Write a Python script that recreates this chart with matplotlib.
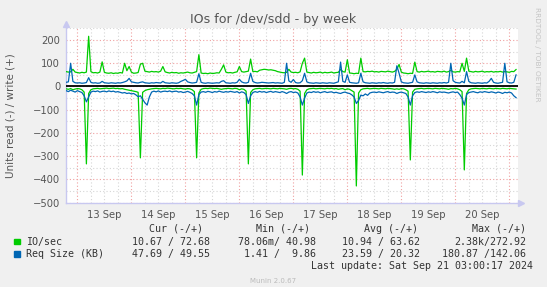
import numpy as np
import pandas as pd
import matplotlib
matplotlib.use('Agg')
import matplotlib.pyplot as plt
import matplotlib.dates as mdates
from matplotlib.ticker import MultipleLocator, FuncFormatter, NullFormatter
from matplotlib.patches import Rectangle

# hourly samples, Thu Sep 12 19:00 -> Sat Sep 21 03:00
start = '2024-09-12 19:00'
x_min = '2024-09-12 18:48'
x_max = '2024-09-21 04:00'

# IO/sec, write (+)
write_io = [
    64, 62, 63, 74, 62,
    60, 58, 61, 59, 62, 216, 64, 59, 60, 58, 62, 106, 61, 58, 57, 59, 56, 58, 57, 60, 58, 100, 68, 86,
    62, 57, 58, 60, 96, 100, 66, 64, 62, 65, 63, 64, 62, 66, 86, 63, 60, 58, 61, 59, 60, 57, 59, 58,
    60, 62, 59, 58, 61, 64, 137, 58, 56, 57, 55, 58, 56, 57, 59, 58, 74, 93, 62, 59, 60, 58, 61, 63,
    86, 64, 62, 64, 66, 118, 64, 65, 63, 70, 72, 74, 73, 71, 72, 70, 68, 64, 62, 60, 59, 61, 74, 62,
    60, 61, 59, 63, 100, 122, 62, 60, 58, 61, 59, 60, 62, 58, 61, 59, 60, 62, 58, 60, 61, 74, 64, 62,
    115, 58, 57, 55, 57, 56, 122, 64, 63, 65, 64, 66, 63, 64, 62, 65, 64, 63, 66, 64, 62, 65, 74, 95,
    62, 58, 57, 55, 57, 56, 105, 64, 62, 65, 63, 64, 66, 63, 64, 62, 65, 64, 63, 66, 62, 64, 70, 63,
    62, 64, 63, 100, 65, 122, 66, 64, 62, 65, 63, 64, 66, 62, 64, 63, 65, 62, 64, 63, 65, 62, 64, 63,
    61, 65, 64, 73,
]

# Req Size (KB), write (+)
write_size = [
    18, 20, 100, 22, 16,
    15, 16, 14, 15, 17, 38, 18, 15, 16, 14, 15, 22, 16, 15, 14, 16, 15, 14, 16, 15, 17, 20, 24, 35,
    20, 18, 16, 15, 18, 20, 16, 15, 14, 16, 15, 17, 16, 15, 22, 16, 15, 14, 16, 15, 14, 16, 22, 26,
    31, 20, 17, 15, 16, 18, 55, 18, 15, 14, 16, 15, 14, 15, 16, 15, 22, 25, 16, 15, 14, 16, 15, 18,
    31, 20, 16, 15, 18, 57, 22, 17, 15, 16, 18, 17, 16, 15, 16, 17, 15, 16, 15, 14, 18, 100, 24, 18,
    30, 17, 15, 16, 25, 57, 20, 16, 15, 14, 16, 15, 14, 16, 15, 14, 16, 15, 14, 17, 20, 105, 22, 18,
    50, 18, 16, 15, 14, 16, 57, 20, 16, 15, 14, 16, 15, 14, 16, 15, 17, 15, 14, 16, 15, 18, 89, 57,
    20, 16, 15, 14, 16, 18, 50, 20, 16, 15, 14, 16, 15, 14, 16, 15, 14, 16, 15, 17, 15, 18, 100, 25,
    18, 16, 15, 22, 16, 64, 22, 16, 15, 14, 16, 15, 14, 16, 15, 22, 35, 18, 15, 14, 16, 18, 100, 20,
    16, 15, 18, 50,
]

# IO/sec, read (-)
read_io = [
    10, 12, 9, 14, 11,
    9, 10, 14, 24, 333, 30, 14, 10, 9, 8, 10, 9, 8, 7, 9, 8, 7, 9, 8, 10, 9, 12, 14, 16,
    18, 20, 22, 25, 307, 25, 18, 14, 12, 10, 9, 8, 9, 10, 8, 9, 7, 8, 9, 10, 8, 9, 8, 10,
    11, 9, 10, 14, 22, 307, 28, 12, 9, 8, 9, 7, 8, 9, 8, 10, 12, 10, 9, 8, 9, 10, 8, 9,
    14, 10, 12, 20, 333, 26, 14, 10, 9, 8, 10, 9, 8, 9, 10, 8, 9, 10, 8, 9, 10, 12, 9, 8,
    10, 9, 12, 20, 381, 30, 14, 10, 9, 8, 10, 9, 8, 9, 10, 8, 9, 8, 10, 9, 12, 10, 9, 14,
    10, 12, 18, 24, 428, 28, 14, 10, 9, 8, 10, 9, 8, 9, 10, 8, 9, 10, 8, 9, 10, 12, 10, 12,
    9, 10, 14, 20, 316, 24, 12, 10, 9, 8, 10, 9, 8, 9, 10, 8, 9, 10, 8, 9, 10, 12, 9, 10,
    8, 10, 14, 22, 359, 30, 14, 10, 9, 8, 9, 10, 8, 9, 10, 8, 9, 10, 8, 9, 10, 8, 9, 10,
    8, 9, 10, 11,
]

# Req Size (KB), read (-)
read_size = [
    18, 22, 16, 20, 24,
    18, 22, 26, 40, 66, 45, 24, 20, 22, 19, 24, 21, 20, 23, 19, 22, 20, 24, 22, 25, 28, 26, 30, 28,
    32, 30, 36, 44, 40, 55, 70, 80, 45, 24, 20, 23, 19, 24, 21, 20, 22, 19, 23, 21, 20, 24, 22, 26,
    24, 21, 25, 30, 40, 80, 35, 24, 22, 25, 21, 23, 26, 22, 24, 20, 23, 25, 22, 24, 21, 23, 25, 22,
    28, 23, 26, 35, 73, 40, 26, 22, 25, 21, 24, 22, 26, 23, 21, 25, 22, 24, 26, 22, 25, 30, 24, 22,
    26, 24, 28, 45, 80, 50, 28, 24, 26, 22, 25, 23, 27, 24, 22, 26, 24, 23, 27, 25, 28, 30, 26, 24,
    28, 30, 36, 45, 73, 60, 37, 40, 32, 38, 28, 25, 24, 26, 23, 25, 27, 24, 22, 26, 24, 25, 30, 26,
    24, 27, 30, 45, 80, 40, 26, 23, 25, 22, 24, 26, 23, 25, 22, 24, 27, 23, 25, 24, 26, 28, 25, 23,
    26, 24, 35, 50, 80, 35, 26, 24, 22, 25, 27, 23, 25, 22, 24, 26, 23, 25, 28, 24, 26, 30, 25, 27,
    24, 28, 40, 48,
]

legend_names = ['IO/sec', 'Req Size (KB)']
legend_colors = ['#00CC00', '#0066B3']
col_heads = ['Cur (-/+)', 'Min (-/+)', 'Avg (-/+)', 'Max (-/+)']
io_stats = ['10.67 / 72.68', '78.06m/ 40.98', '10.94 / 63.62', '2.38k/272.92']
size_stats = ['47.69 / 49.55', '1.41 /  9.86', '23.59 / 20.32', '180.87 /142.06']
last_update = 'Last update: Sat Sep 21 03:00:17 2024'

W, H = 547, 287
green, blue = legend_colors

times = pd.date_range(start, periods=len(write_io), freq='h')

fig = plt.figure(figsize=(W / 100, H / 100), dpi=100, facecolor='#F0F0F0')
ax = fig.add_axes([65.7 / W, 1 - 202.7 / H, (518.3 - 65.7) / W, (202.7 - 27.7) / H])
ax.set_facecolor('white')

ax.plot(times, write_io, color=green, lw=0.9, zorder=3)
ax.plot(times, -np.array(read_io), color=green, lw=0.9, zorder=3)
ax.plot(times, write_size, color=blue, lw=0.9, zorder=4)
ax.plot(times, -np.array(read_size), color=blue, lw=0.9, zorder=4)
ax.axhline(0, color='black', lw=1.3, zorder=5)

ax.set_xlim(pd.Timestamp(x_min), pd.Timestamp(x_max))
ax.set_ylim(-500, 253)

ax.yaxis.set_major_locator(MultipleLocator(100))
ax.yaxis.set_minor_locator(MultipleLocator(50))
ax.xaxis.set_major_locator(mdates.DayLocator())
ax.xaxis.set_major_formatter(NullFormatter())
ax.xaxis.set_minor_locator(mdates.HourLocator(byhour=[6, 12, 18]))


def day_label(v, pos):
    d = mdates.num2date(v)
    return d.strftime('%d %b') if d.hour == 12 else ''


ax.xaxis.set_minor_formatter(FuncFormatter(day_label))

ax.grid(which='major', color='#F0A0A0', ls=(0, (1, 2)), lw=0.8, zorder=1)
ax.grid(which='minor', color='#D6D6D6', ls=(0, (1, 2)), lw=0.8, zorder=1)
ax.set_axisbelow(True)

ax.tick_params(which='both', length=0, labelcolor='#555555', labelsize=7.2)
ax.tick_params(axis='y', pad=4)
ax.tick_params(axis='x', which='both', pad=5)

for s in ['top', 'right']:
    ax.spines[s].set_visible(False)
for s in ['left', 'bottom']:
    ax.spines[s].set_color('#C8C8F0')
    ax.spines[s].set_linewidth(1)

# axis arrows
ax.plot([0], [1.02], marker='^', ms=5, color='#C8C8F0', transform=ax.transAxes, clip_on=False)
ax.plot([1.007], [0], marker='>', ms=5, color='#C8C8F0', transform=ax.transAxes, clip_on=False)


def ftext(x, y, s, **kw):
    fig.text(x / W, 1 - y / H, s, **kw)


ftext(273.5, 20, 'IOs for /dev/sdd - by week', ha='center', va='center',
      fontsize=9.1, color='#555555')
ftext(11, 116, 'Units read (-) / write (+)', ha='center', va='center',
      rotation=90, fontsize=7.5, color='#555555')
ftext(537.3, 7, 'RRDTOOL / TOBI OETIKER', ha='center', va='top',
      rotation=270, fontsize=5.3, color='#C4C4C4')

mono = dict(family='DejaVu Sans Mono', fontsize=7.2, color='#333333', va='center')
col_x = [209.5, 316, 420.5, 526]
head_x = [203, 310, 418, 526]
for cx, txt in zip(head_x, col_heads):
    ftext(cx, 228.5, txt, ha='right', **mono)

rows_y = [241.5, 253.8]
for name, col, stats, ry in zip(legend_names, legend_colors, [io_stats, size_stats], rows_y):
    fig.patches.append(Rectangle((14 / W, 1 - (ry + 2.8) / H), 5.6 / W, 5.6 / H,
                                 transform=fig.transFigure, color=col))
    ftext(26.5, ry, name, ha='left', **mono)
    for cx, txt in zip(col_x, stats):
        ftext(cx, ry, txt, ha='right', **mono)

ftext(533, 266, last_update, ha='right', **mono)
ftext(273, 281, 'Munin 2.0.67', ha='center', va='center', fontsize=5, color='#BBBBBB')

fig.savefig('out.png', dpi=100, facecolor=fig.get_facecolor())
